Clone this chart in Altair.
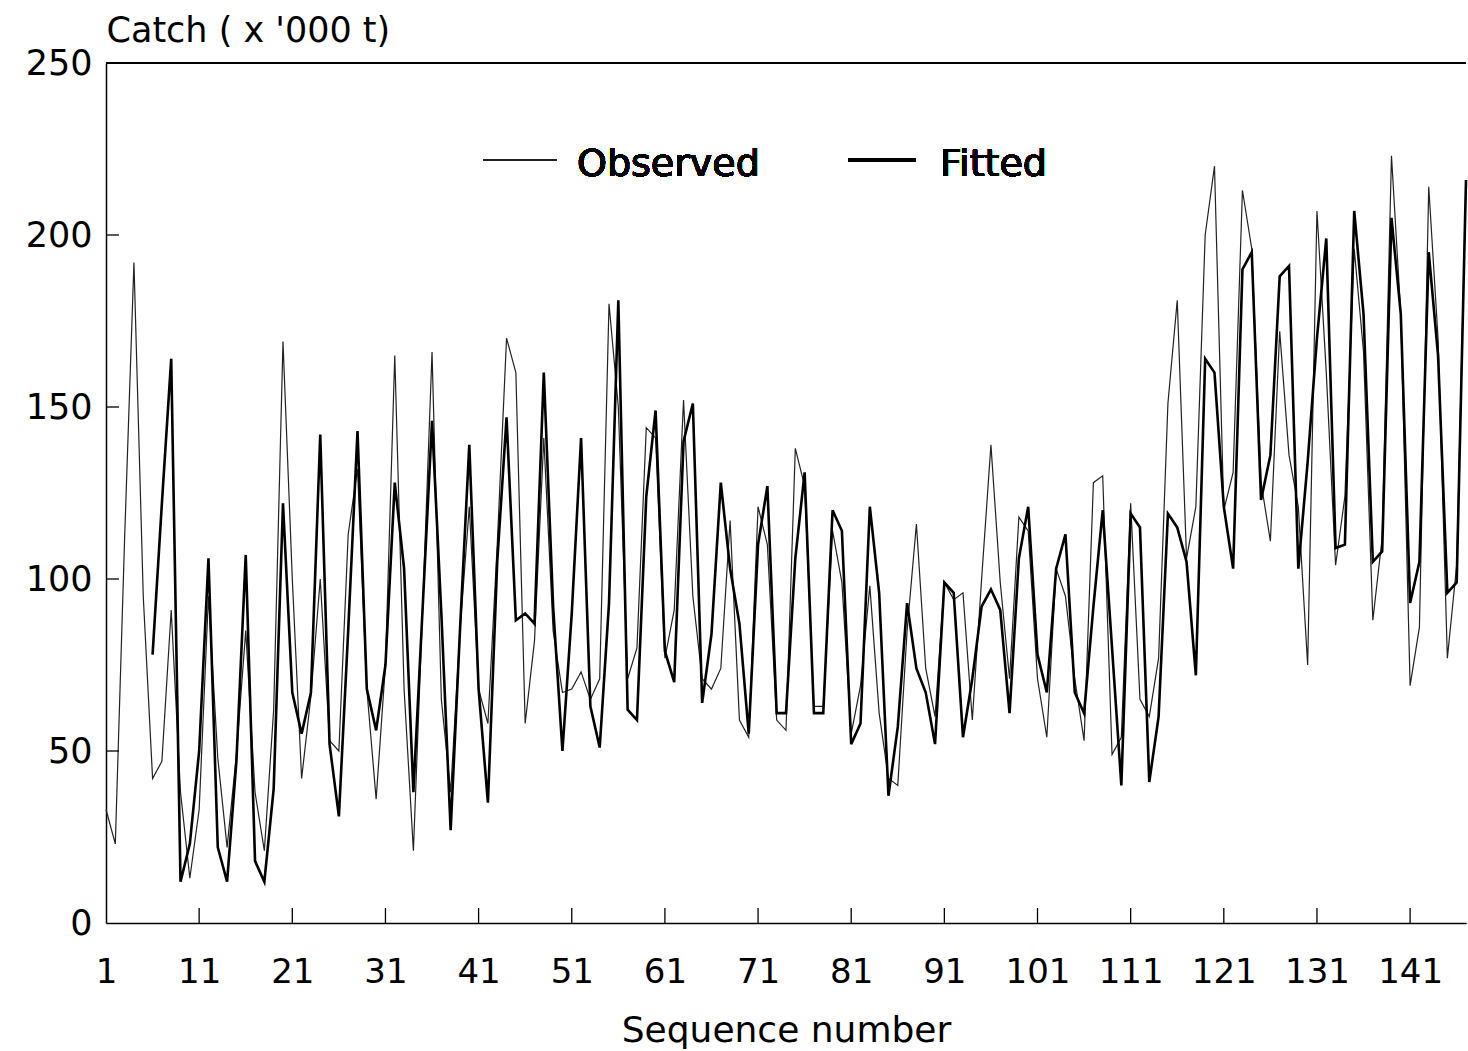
import altair as alt
import pandas as pd

# ---- data ----
seq = list(range(1, 148))
observed = [
    33, 23, 112, 192, 95, 42, 47, 91, 38, 13,
    33, 95, 48, 22, 49, 85, 38, 21, 62, 169,
    100, 42, 66, 100, 53, 50, 113, 132, 68, 36,
    75, 165, 68, 21, 92, 166, 65, 38, 85, 121,
    68, 58, 110, 170, 160, 58, 82, 141, 85, 67,
    68, 73, 65, 71, 180, 150, 71, 80, 144, 141,
    77, 91, 152, 95, 71, 68, 74, 117, 59, 54,
    121, 110, 59, 56, 138, 127, 63, 63, 114, 99,
    55, 69, 98, 61, 42, 40, 85, 116, 74, 60,
    99, 94, 96, 59, 100, 139, 99, 71, 118, 114,
    71, 54, 103, 95, 71, 53, 128, 130, 49, 54,
    122, 65, 60, 77, 151, 181, 106, 121, 200, 220,
    120, 131, 213, 196, 128, 111, 172, 136, 121, 75,
    207, 160, 104, 124, 196, 166, 88, 112, 223, 177,
    69, 86, 214, 170, 77, 104, 216,
]
fitted_start = 6
fitted = [
    78, 122, 164, 12, 23,
    50, 106, 22, 12, 47, 107, 18, 12, 39, 122,
    67, 55, 67, 142, 52, 31, 85, 143, 68, 56,
    75, 128, 103, 38, 92, 146, 90, 27, 85, 139,
    68, 35, 105, 147, 88, 90, 87, 160, 92, 50,
    90, 141, 63, 51, 93, 181, 62, 59, 124, 149,
    79, 70, 140, 151, 64, 84, 128, 103, 87, 55,
    110, 127, 61, 61, 106, 131, 61, 61, 120, 114,
    52, 58, 121, 96, 37, 57, 93, 74, 67, 52,
    99, 96, 54, 71, 92, 97, 91, 61, 106, 121,
    78, 67, 103, 113, 67, 61, 92, 120, 80, 40,
    119, 115, 41, 60, 119, 115, 105, 72, 164, 160,
    121, 103, 190, 195, 123, 136, 188, 191, 103, 134,
    170, 199, 109, 110, 207, 177, 105, 108, 205, 177,
    93, 105, 195, 165, 96, 99, 216,
]
x_tick_values = [1, 11, 21, 31, 41, 51, 61, 71, 81, 91, 101, 111, 121, 131, 141]
y_tick_values = [0, 50, 100, 150, 200, 250]
series_names = ["Observed", "Fitted"]

obs_df = pd.DataFrame({"seq": seq, "catch": observed})
fit_df = pd.DataFrame({"seq": seq[fitted_start - 1:], "catch": fitted})
xt_df = pd.DataFrame({"seq": x_tick_values[1:]})
yt_df = pd.DataFrame({"catch": y_tick_values[1:-1]})

W, H = 1360, 860
FONT = "DejaVu Sans"

xscale = alt.Scale(domain=[1, 147], nice=False, zero=False)
yscale = alt.Scale(domain=[0, 250], nice=False)

x_axis = alt.Axis(
    values=x_tick_values, ticks=False, tickSize=0, grid=False,
    labelFont=FONT, labelFontSize=34, labelColor="black", labelPadding=32,
    labelFlush=False, domainColor="black", domainWidth=1.5,
    title="Sequence number", titleFont=FONT, titleFontSize=36,
    titleFontWeight="normal", titleColor="black", titlePadding=24,
)
y_axis = alt.Axis(
    values=y_tick_values, ticks=False, tickSize=0, grid=False,
    labelFont=FONT, labelFontSize=35, labelColor="black", labelPadding=14,
    domainColor="black", domainWidth=1.5,
    title="Catch ( x '000 t)", titleFont=FONT, titleFontSize=35,
    titleFontWeight="normal", titleColor="black", titleAngle=0,
    titleAlign="left", titleBaseline="middle", titleX=0, titleY=-33,
)

X = alt.X("seq:Q", scale=xscale, axis=x_axis)
Y = alt.Y("catch:Q", scale=yscale, axis=y_axis)

obs_line = alt.Chart(obs_df).mark_line(color="#222222", strokeWidth=1.2).encode(x=X, y=Y)
fit_line = alt.Chart(fit_df).mark_line(color="black", strokeWidth=2.6).encode(x=X, y=Y)

x_ticks = alt.Chart(xt_df).mark_rule(color="black", strokeWidth=1.3).encode(
    x=X, y=alt.value(H), y2=alt.value(H - 15),
)
y_ticks = alt.Chart(yt_df).mark_rule(color="black", strokeWidth=1.3).encode(
    y=Y, x=alt.value(0), x2=alt.value(13),
)
top_frame = alt.Chart(obs_df).mark_rule(color="black", strokeWidth=1.5).encode(
    x=alt.value(0), x2=alt.value(W), y=alt.value(0),
)

leg_obs_line = alt.Chart(obs_df).mark_rule(color="#222222", strokeWidth=1.2).encode(
    x=alt.value(377), x2=alt.value(451), y=alt.value(97),
)
leg_fit_line = alt.Chart(obs_df).mark_rule(color="black", strokeWidth=2.4).encode(
    x=alt.value(742), x2=alt.value(810), y=alt.value(97),
)
leg_obs_text = alt.Chart(obs_df).mark_text(
    text=series_names[0], font=FONT, fontSize=38, align="left", baseline="middle", color="black"
).encode(x=alt.value(471), y=alt.value(102))
leg_fit_text = alt.Chart(obs_df).mark_text(
    text=series_names[1], font=FONT, fontSize=38, align="left", baseline="middle", color="black"
).encode(x=alt.value(834), y=alt.value(102))

chart = alt.layer(
    obs_line, fit_line, x_ticks, y_ticks, top_frame,
    leg_obs_line, leg_fit_line, leg_obs_text, leg_fit_text,
).properties(
    width=W, height=H,
    padding={"left": 106, "top": 63, "right": 2, "bottom": 128},
    autosize=alt.AutoSizeParams(type="none"),
    background="white",
).configure_view(stroke=None)

chart.save("out.html", embed_options={"renderer": "svg", "actions": False})
